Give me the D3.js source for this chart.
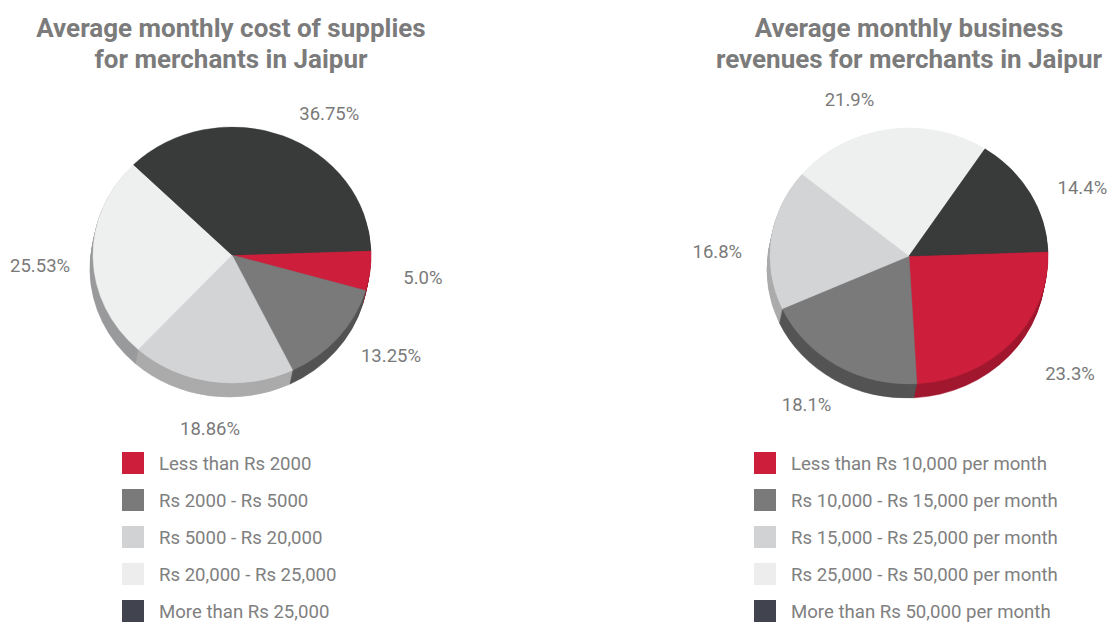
<!DOCTYPE html>
<html lang="en">
<head>
<meta charset="UTF-8">
<title>Jaipur merchants</title>
<style>
  body { margin: 0; background: #fff; }
  text { font-family: Roboto, "Noto Sans", sans-serif; fill: #7a7a7a; }
</style>
</head>
<body>
<svg width="1111" height="622" id="svg"></svg>
<script src="https://d3js.org/d3.v7.min.js"></script>
<script>
  // ---- data ----
  const costTitle = ["Average monthly cost of supplies", "for merchants in Jaipur"]
  const costCategories = ["Less than Rs 2000", "Rs 2000 - Rs 5000", "Rs 5000 - Rs 20,000", "Rs 20,000 - Rs 25,000", "More than Rs 25,000"]
  const costValues = [5.0, 13.25, 18.86, 25.53, 36.75]
  const costLabels = ["5.0%", "13.25%", "18.86%", "25.53%", "36.75%"]

  const revTitle = ["Average monthly business", "revenues for merchants in Jaipur"]
  const revCategories = ["Less than Rs 10,000 per month", "Rs 10,000 - Rs 15,000 per month", "Rs 15,000 - Rs 25,000 per month", "Rs 25,000 - Rs 50,000 per month", "More than Rs 50,000 per month"]
  const revValues = [23.3, 18.1, 16.8, 21.9, 14.4]
  const revLabels = ["23.3%", "18.1%", "16.8%", "21.9%", "14.4%"]

  // ---- styling ----
  const topColors = ["#cd1f3c", "#7a7a7a", "#d3d4d6", "#eef0ef", "#383b3a"]
  const sideColors = ["#a1182f", "#545454", "#ababab", "#999a9c", "#262828"]
  const legendColors = ["#cd1f3c", "#7a7a7a", "#d1d2d4", "#ededed", "#41444f"]

  const svg = d3.select("svg#svg")
  const rx = 139, ry = 128, depth = 14, skew = -3
  const startDeg = 88

  function drawPie(opts) {
    const { cx, cy, values, labels, labelShift, labelStretch, title, titleX, categories, legendX } = opts
    const pie = d3.pie().sort(null).value(d => d)
      .startAngle(startDeg * Math.PI / 180)
      .endAngle((startDeg + 360) * Math.PI / 180)
    const arcs = pie(values)
    const arc = d3.arc().innerRadius(0).outerRadius(rx)
    const g = svg.append("g")

    // side (stacked layers)
    for (let k = depth; k >= 1; k--) {
      const layer = g.append("g")
        .attr("transform", `translate(${cx + skew * k / depth},${cy + k}) scale(1,${ry / rx})`)
      layer.selectAll("path").data(arcs).join("path")
        .attr("d", arc)
        .attr("fill", (d, i) => sideColors[i])
        .attr("stroke", (d, i) => sideColors[i])
        .attr("stroke-width", 0.6)
    }
    // top face
    const top = g.append("g").attr("transform", `translate(${cx},${cy}) scale(1,${ry / rx})`)
    top.selectAll("path").data(arcs).join("path")
      .attr("d", arc)
      .attr("fill", (d, i) => topColors[i])
      .attr("stroke", (d, i) => topColors[i])
      .attr("stroke-width", 0.5)

    // percentage labels
    const lrx = 192, lry = 170, lcy = cy + 5
    const mid = (d, i) => (d.startAngle + d.endAngle) / 2 + labelShift[i] * Math.PI / 180
    g.selectAll("text.pct").data(arcs).join("text")
      .attr("class", "pct")
      .attr("x", (d, i) => cx + lrx * labelStretch[i] * Math.sin(mid(d, i)))
      .attr("y", (d, i) => lcy - lry * labelStretch[i] * Math.cos(mid(d, i)))
      .attr("dy", "0.35em")
      .attr("text-anchor", "middle")
      .style("font-size", "18.5px")
      .text((d, i) => labels[i])

    // title
    svg.append("text")
      .attr("x", titleX).attr("y", 37)
      .attr("text-anchor", "middle")
      .style("font-size", "26px").style("font-weight", "bold").style("fill", "#7b7b7b")
      .selectAll("tspan").data(title).join("tspan")
      .attr("x", titleX).attr("dy", (d, i) => i === 0 ? 0 : 31)
      .text(d => d)

    // legend
    const rowY = d3.scalePoint().domain(d3.range(categories.length)).range([463, 611])
    const lg = svg.append("g")
    lg.selectAll("rect").data(categories).join("rect")
      .attr("x", legendX).attr("y", (d, i) => rowY(i) - 11)
      .attr("width", 22).attr("height", 22)
      .attr("fill", (d, i) => legendColors[i])
    lg.selectAll("text").data(categories).join("text")
      .attr("x", legendX + 37).attr("y", (d, i) => rowY(i))
      .attr("dy", "0.35em")
      .style("font-size", "18.6px").style("fill", "#808080")
      .text(d => d)
  }

  drawPie({
    cx: 232, cy: 255, values: costValues, labels: costLabels,
    labelShift: [-1, -6, -1.7, -0.5, 9],
    labelStretch: [1, 1, 1, 1, 1],
    title: costTitle, titleX: 231, categories: costCategories, legendX: 122
  })
  drawPie({
    cx: 909, cy: 256, values: revValues, labels: revLabels,
    labelShift: [-4, 1, -4.4, -9.5, 4],
    labelStretch: [1.07, 1, 1, 1, 1],
    title: revTitle, titleX: 909, categories: revCategories, legendX: 754
  })
</script>
</body>
</html>
